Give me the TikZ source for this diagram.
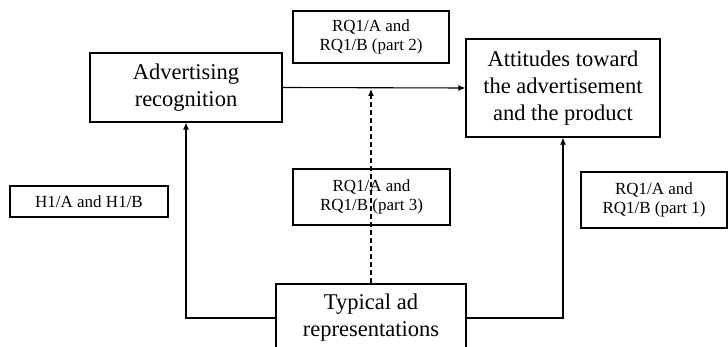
\documentclass[tikz,border=0pt]{standalone}
\usepackage{fontspec}
\setmainfont{Liberation Serif}
\usetikzlibrary{arrows.meta}
\begin{document}
\begin{tikzpicture}[x=1pt,y=-1pt,
  big/.style={draw,line width=1.3pt,align=center,inner sep=0pt,font=\fontsize{22.5}{27}\selectfont},
  small/.style={draw,line width=1.3pt,align=center,inner sep=0pt,font=\fontsize{17}{19}\selectfont},
  conn/.style={line width=1.1pt,-{Latex[length=7pt,width=6pt]}}]
\useasboundingbox (0,0) rectangle (728,347);
\node[big,minimum width=192pt,minimum height=69pt] (ar) at (186,87.5) {Advertising\\recognition};
\node[big,minimum width=194pt,minimum height=98pt] (att) at (563,88) {Attitudes toward\\the advertisement\\and the product};
\node[big,minimum width=190pt,minimum height=68pt] (typ) at (371,318) {Typical ad\\representations};
\node[small,minimum width=156pt,minimum height=52pt] (p2) at (371,37) {RQ1/A and\\RQ1/B (part 2)};
\node[small,minimum width=157pt,minimum height=56pt] (p3) at (371.5,197) {RQ1/A and\\RQ1/B (part 3)};
\node[small,minimum width=146pt,minimum height=56pt] (p1) at (654,200) {RQ1/A and\\RQ1/B (part 1)};
\node[small,minimum width=158pt,minimum height=31pt] (h1) at (89,201.5) {H1/A and H1/B};
\draw[conn] (ar.east) -- (att.west);
\draw[conn] (typ.west) -| (ar.south);
\draw[conn] (typ.east) -| (att.south);
\draw[conn,dashed,dash pattern=on 5pt off 3pt,shorten >=1.5pt] (typ.north) -- (typ.north |- ar.east);
\end{tikzpicture}
\end{document}
